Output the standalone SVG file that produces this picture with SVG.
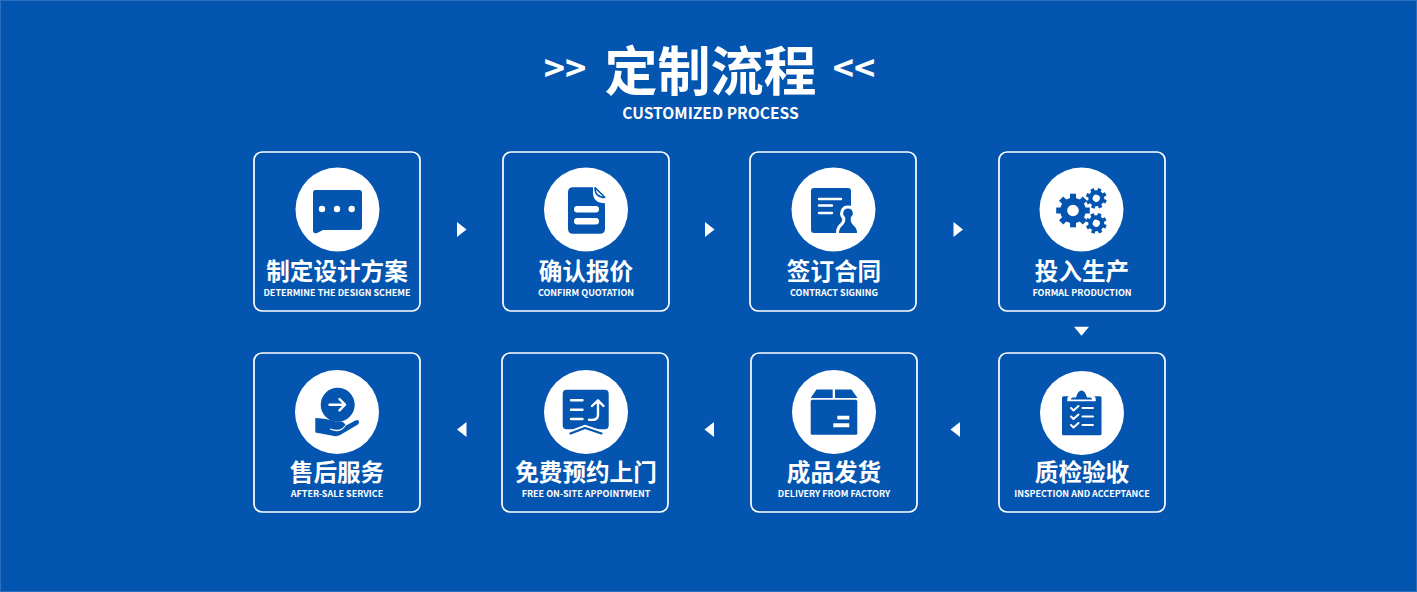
<svg xmlns="http://www.w3.org/2000/svg" width="1417" height="592" viewBox="0 0 1417 592">
<style>
text{font-family:"Noto Sans CJK SC","Noto Sans",sans-serif;fill:#fff;text-anchor:middle}
.box{fill:none;stroke:#fff;stroke-width:1.7}
.c{fill:#fff}
.i{fill:#0355b0}
.l{fill:none;stroke:#fff;stroke-width:2.4;stroke-linecap:round;stroke-linejoin:round}
.t{font-size:23.6px;font-weight:700}
.s{font-size:9px;font-weight:700}
.a{fill:#fff}
</style>
<defs>
<g id="gear">
<circle class="i" r="12.800"/>
<g class="i">
<rect id="tooth" x="-3" y="-16.800" width="6" height="6"/>
<use href="#tooth" transform="rotate(45)"/><use href="#tooth" transform="rotate(90)"/><use href="#tooth" transform="rotate(135)"/><use href="#tooth" transform="rotate(180)"/><use href="#tooth" transform="rotate(225)"/><use href="#tooth" transform="rotate(270)"/><use href="#tooth" transform="rotate(315)"/>
</g>
<circle class="c" r="5.800"/>
</g>
</defs>
<rect width="1417" height="592" fill="#0355b0"/>
<rect x="0.5" y="0.5" width="1416" height="591" fill="none" stroke="#2a6fc0" stroke-width="1"/>
<g id="title">
<text x="565" y="82" style="font-size:36px;font-weight:700">&gt;&gt;</text>
<text x="710.500" y="91" style="font-size:53px;font-weight:700">定制流程</text>
<text x="854" y="82" style="font-size:36px;font-weight:700">&lt;&lt;</text>
<text x="710.500" y="119" style="font-size:15.600px;font-weight:700">CUSTOMIZED PROCESS</text>
</g>
<g id="node-1">
<rect class="box" x="254" y="152" width="166" height="159" rx="8"/>
<circle class="c" cx="337.500" cy="209.500" r="42"/>
<path class="i" d="M315.500 190h43.500q3 0 3 3v34q0 3-3 3h-36l-6 3q-4 1-4-3v-37q0-3 2.500-3z"/>
<circle class="c" cx="322" cy="209" r="3.200"/><circle class="c" cx="337" cy="209" r="3.200"/><circle class="c" cx="351.700" cy="209" r="3.200"/>
<text class="t" x="337" y="280">制定设计方案</text>
<text class="s" x="337" y="296">DETERMINE THE DESIGN SCHEME</text>
</g>
<g id="node-2">
<rect class="box" x="503" y="152" width="166" height="159" rx="8"/>
<circle class="c" cx="586" cy="209.500" r="42"/>
<path class="i" d="M573 187.300h20v5q0 11 12 11v25q0 5.500-5 5.500h-27q-5 0-5-5.500v-36q0-5 5-5z"/>
<path d="M595 187.500q0 10 10 10" fill="none" stroke="#0355b0" stroke-width="1.600"/>
<path d="M595 187.500l10 10" fill="none" stroke="#0355b0" stroke-width="1.600"/>
<rect class="c" x="574" y="206" width="25" height="6.500" rx="3.200"/>
<rect class="c" x="574" y="218" width="25" height="6.500" rx="3.200"/>
<text class="t" x="586" y="280">确认报价</text>
<text class="s" x="586" y="296">CONFIRM QUOTATION</text>
</g>
<g id="node-3">
<rect class="box" x="750" y="152" width="166" height="159" rx="8"/>
<circle class="c" cx="833.500" cy="209.500" r="42"/>
<rect class="i" x="811" y="188" width="40" height="45" rx="3"/>
<path class="l" d="M819 199h22M819 205.500h13M819 213h13"/>
<path d="M848 208.500a4.800 4.800 0 0 1 2.800 8.700q-.8 5 2.700 8.300 3.500 2.500 3.500 7.500h-18q0-5 3.500-7.500 3.500-3.300 2.700-8.300a4.800 4.800 0 0 1 2.800-8.700z" fill="#fff" stroke="#fff" stroke-width="6"/>
<path class="i" d="M848 208.500a4.800 4.800 0 0 1 2.800 8.700q-.8 5 2.700 8.300 3.500 2.500 3.500 7.500h-18q0-5 3.500-7.500 3.500-3.300 2.700-8.300a4.800 4.800 0 0 1 2.800-8.700z"/>
<text class="t" x="834" y="280">签订合同</text>
<text class="s" x="834" y="296">CONTRACT SIGNING</text>
</g>
<g id="node-4">
<rect class="box" x="999" y="152" width="166" height="159" rx="8"/>
<circle class="c" cx="1081.500" cy="209.500" r="42"/>
<use href="#gear" transform="translate(1073 210.500)"/>
<use href="#gear" transform="translate(1096.300 198.300) rotate(20) scale(.62)"/>
<use href="#gear" transform="translate(1096.300 223.300) rotate(20) scale(.62)"/>
<text class="t" x="1082" y="280">投入生产</text>
<text class="s" x="1082" y="296">FORMAL PRODUCTION</text>
</g>
<g id="node-5">
<rect class="box" x="999" y="353" width="166" height="159" rx="8"/>
<circle class="c" cx="1082" cy="413" r="42"/>
<rect class="i" x="1062" y="396.300" width="39.500" height="39" rx="1.500"/>
<path d="M1069 399.500q0-2.500 3-3h3q2-6 6.500-6t6.500 6h3q3 .5 3 3z" fill="#fff" stroke="#fff" stroke-width="3.500"/>
<path class="i" d="M1071 399.500q0-2 2-2h3q2-7 5.500-7t5.500 7h3q2 0 2 2z"/>
<path class="l" style="stroke-width:2" d="M1071 408l2.500 2.500 5-4.500M1071 416.500l2.500 2.500 5-4.500M1071 425l2.500 2.500 5-4.500M1082.500 408h10.500M1082.500 416.500h10.500M1082.500 425h10.500"/>
<text class="t" x="1082" y="481">质检验收</text>
<text class="s" x="1082" y="497">INSPECTION AND ACCEPTANCE</text>
</g>
<g id="node-6">
<rect class="box" x="751" y="353" width="166" height="159" rx="8"/>
<circle class="c" cx="834" cy="412" r="42"/>
<path class="i" d="M816.500 389.500h16.200v8.500h-22zM835 389.500h16.500l6 8.500h-22.500z"/>
<rect class="i" x="810.700" y="399.700" width="46.600" height="35" rx="1.500"/>
<path class="c" d="M837.300 415.700h12v3.700h-12zM833.300 423.300h16v3.900h-16z"/>
<text class="t" x="834" y="481">成品发货</text>
<text class="s" x="834" y="497">DELIVERY FROM FACTORY</text>
</g>
<g id="node-7">
<rect class="box" x="502" y="353" width="166" height="159" rx="8"/>
<circle class="c" cx="586" cy="412" r="42"/>
<rect class="i" x="562.700" y="389.700" width="46" height="39.500" rx="4"/>
<path class="l" d="M571 400.300h11.500M571 409.700h11.500M571 419h11.500M589 419.700q9 1.300 9-5v-14M592 406l6-5.700 5.500 5.700"/>
<path d="M570 433.500l15-5.500 17 5.500" fill="none" stroke="#fff" stroke-width="6"/>
<path d="M570.500 433.500l14.500-5.500 16.500 5.500" fill="none" stroke="#0355b0" stroke-width="2.200" stroke-linecap="round"/>
<text class="t" x="586" y="481">免费预约上门</text>
<text class="s" x="586" y="497">FREE ON-SITE APPOINTMENT</text>
</g>
<g id="node-8">
<rect class="box" x="254" y="353" width="166" height="159" rx="8"/>
<circle class="c" cx="337" cy="412" r="42"/>
<circle class="i" cx="337.700" cy="404.700" r="17"/>
<path class="l" d="M329.500 404.700h15.500M339.500 399l5.500 5.700-5.500 5.700"/>
<path class="i" d="M315.300 418q13 .5 20 3.500h6q4 1 4 4.500l10-5.500q3.500-1.500 3.800 1.500 0 1.800-2 3l-17 10q-3 1.500-6 1l-18.800-3.500z"/>
<path d="M330 429q8 3 12 0 2-1.500 3-3" fill="none" stroke="#fff" stroke-width="1.300"/>
<text class="t" x="337" y="481">售后服务</text>
<text class="s" x="337" y="497">AFTER-SALE SERVICE</text>
</g>
<g id="connectors">
<path class="a" d="M457 222l9.500 7.500-9.500 7.500z"/>
<path class="a" d="M705 222l9.500 7.500-9.500 7.500z"/>
<path class="a" d="M953.500 222l9.500 7.500-9.500 7.500z"/>
<path class="a" d="M1074 326.700h15l-7.500 9z"/>
<path class="a" d="M960 422v15l-9.500-7.500z"/>
<path class="a" d="M466.500 422v15l-9.500-7.500z"/>
<path class="a" d="M714 422v15l-9.500-7.500z"/>
</g>
</svg>
